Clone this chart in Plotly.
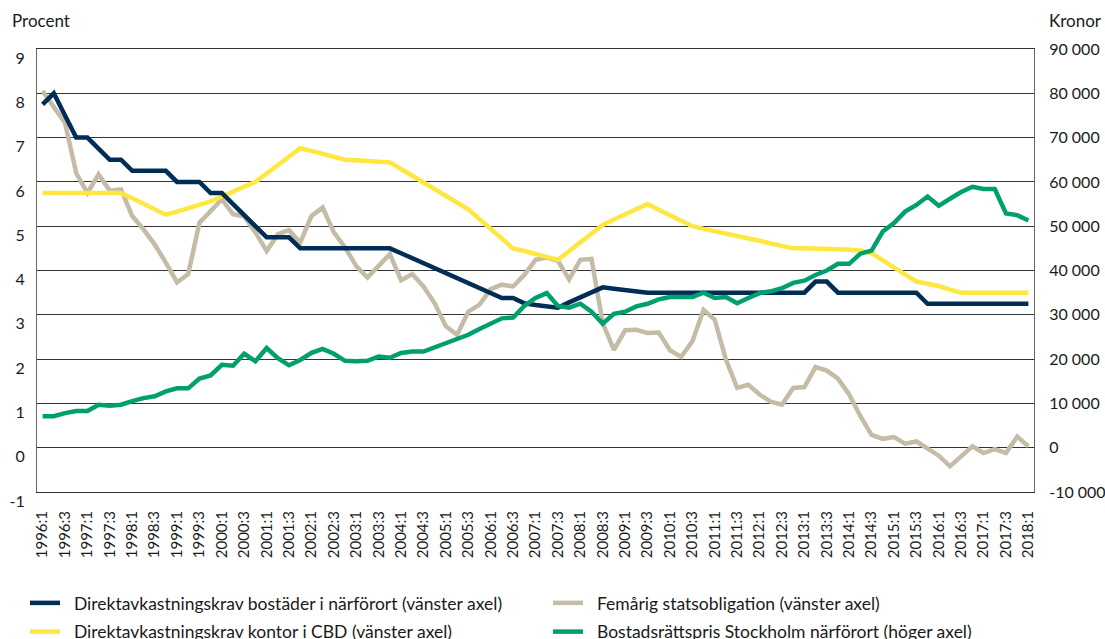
import plotly.graph_objects as go

# quarters 1996:1 .. 2018:1
quarters = [f"{year}:{q}" for year in range(1996, 2019) for q in (1, 2, 3, 4)][:89]
tick_quarters = quarters[::2]

# Direktavkastningskrav bostäder i närförort (procent, vänster axel)
bostader = [
    7.75, 8.0, 7.5, 7.0, 7.0, 6.75, 6.5, 6.5, 6.25, 6.25,
    6.25, 6.25, 6.0, 6.0, 6.0, 5.75, 5.75, 5.5, 5.25, 5.0,
    4.75, 4.75, 4.75, 4.5, 4.5, 4.5, 4.5, 4.5, 4.5, 4.5,
    4.5, 4.5, 4.39, 4.28, 4.16, 4.05, 3.94, 3.83, 3.72, 3.6,
    3.49, 3.38, 3.38, 3.26, 3.22, 3.19, 3.16, 3.28, 3.4, 3.51,
    3.62, 3.59, 3.56, 3.53, 3.5, 3.5, 3.5, 3.5, 3.5, 3.5,
    3.5, 3.5, 3.5, 3.5, 3.5, 3.5, 3.5, 3.5, 3.5, 3.75,
    3.75, 3.5, 3.5, 3.5, 3.5, 3.5, 3.5, 3.5, 3.5, 3.25,
    3.25, 3.25, 3.25, 3.25, 3.25, 3.25, 3.25, 3.25, 3.25,
]

# Femårig statsobligation (procent, vänster axel)
statsobligation = [
    8.05, 7.7, 7.33, 6.2, 5.75, 6.17, 5.8, 5.83, 5.23, 4.93,
    4.59, 4.18, 3.73, 3.92, 5.08, 5.34, 5.61, 5.27, 5.22, 4.86,
    4.44, 4.82, 4.91, 4.63, 5.23, 5.42, 4.86, 4.52, 4.1, 3.84,
    4.1, 4.37, 3.78, 3.92, 3.64, 3.26, 2.74, 2.55, 3.07, 3.23,
    3.58, 3.68, 3.64, 3.9, 4.24, 4.29, 4.22, 3.8, 4.24, 4.26,
    2.81, 2.21, 2.65, 2.66, 2.59, 2.6, 2.2, 2.05, 2.4, 3.11,
    2.89, 1.99, 1.35, 1.42, 1.2, 1.04, 0.97, 1.35, 1.37, 1.82,
    1.74, 1.56, 1.2, 0.71, 0.29, 0.2, 0.24, 0.09, 0.14, -0.03,
    -0.18, -0.42, -0.18, 0.03, -0.12, -0.03, -0.12, 0.25, 0.03,
]

# Direktavkastningskrav kontor i CBD (procent, vänster axel)
kontor_cbd = [
    5.75, 5.75, 5.75, 5.75, 5.75, 5.75, 5.75, 5.75, 5.63, 5.5,
    5.38, 5.26, 5.33, 5.41, 5.48, 5.56, 5.67, 5.78, 5.89, 6.0,
    6.19, 6.38, 6.57, 6.76, 6.7, 6.63, 6.57, 6.5, 6.49, 6.47,
    6.46, 6.44, 6.29, 6.14, 5.99, 5.84, 5.68, 5.53, 5.38, 5.16,
    4.94, 4.72, 4.5, 4.44, 4.37, 4.31, 4.24, 4.44, 4.64, 4.83,
    5.03, 5.15, 5.27, 5.38, 5.5, 5.37, 5.25, 5.12, 5.0, 4.94,
    4.89, 4.83, 4.78, 4.72, 4.67, 4.61, 4.56, 4.5, 4.5, 4.5,
    4.49, 4.48, 4.47, 4.45, 4.39, 4.23, 4.07, 3.91, 3.75, 3.7,
    3.65, 3.57, 3.5, 3.5, 3.5, 3.5, 3.5, 3.5, 3.5,
]

# Bostadsrättspris Stockholm närförort (kronor, höger axel)
bostadsratt_pris = [
    7100, 7100, 7800, 8300, 8300, 9700, 9500, 9700, 10500, 11200,
    11600, 12700, 13400, 13400, 15600, 16300, 18700, 18500, 21200, 19500,
    22500, 20200, 18600, 19800, 21400, 22300, 21200, 19600, 19500, 19600,
    20600, 20300, 21400, 21700, 21700, 22700, 23600, 24500, 25500, 26800,
    28000, 29200, 29400, 32000, 33800, 34900, 32000, 31600, 32500, 30700,
    28000, 30200, 30700, 31900, 32500, 33500, 34000, 34000, 34000, 35000,
    33800, 34000, 32600, 33800, 34900, 35300, 36000, 37200, 37700, 39000,
    40000, 41500, 41500, 43800, 44500, 48800, 50700, 53300, 54800, 56700,
    54600, 56200, 57700, 58900, 58400, 58400, 52900, 52500, 51300,
]

left_ticks = [-1, 0, 1, 2, 3, 4, 5, 6, 7, 8, 9]
left_ticktext = ["-1", "0", "1", "2", "3", "4", "5", "6", "7", "8", "9"]
right_ticks = [-10000, 0, 10000, 20000, 30000, 40000, 50000, 60000, 70000, 80000, 90000]
right_ticktext = ["-10 000", "0", "10 000", "20 000", "30 000", "40 000",
                  "50 000", "60 000", "70 000", "80 000", "90 000"]

NAVY = "#002d56"
BEIGE = "#c4bca7"
YELLOW = "#ffe640"
GREEN = "#00a06e"
FONT = "Lato, 'Open Sans', sans-serif"
GAP = "\u00a0\u00a0"

fig = go.Figure()
fig.add_trace(go.Scatter(
    x=quarters, y=statsobligation, mode="lines", name=GAP + "Femårig statsobligation (vänster axel)",
    line=dict(color=BEIGE, width=4.5), legend="legend2", legendgroup="b", legendrank=1,
))
fig.add_trace(go.Scatter(
    x=quarters, y=kontor_cbd, mode="lines", name=GAP + "Direktavkastningskrav kontor i CBD (vänster axel)",
    line=dict(color=YELLOW, width=4.5), legend="legend", legendgroup="c", legendrank=2,
))
fig.add_trace(go.Scatter(
    x=quarters, y=bostader, mode="lines", name=GAP + "Direktavkastningskrav bostäder i närförort (vänster axel)",
    line=dict(color=NAVY, width=4.5), legend="legend", legendgroup="a", legendrank=1,
))
fig.add_trace(go.Scatter(
    x=quarters, y=bostadsratt_pris, mode="lines", name=GAP + "Bostadsrättspris Stockholm närförort (höger axel)",
    line=dict(color=GREEN, width=4.5), yaxis="y2", legend="legend2", legendgroup="d", legendrank=2,
))

legend_common = dict(
    xref="container", yref="container", xanchor="left", yanchor="top",
    orientation="v", tracegroupgap=3, bgcolor="rgba(0,0,0,0)",
    font=dict(family=FONT, size=17.5, color="#1a1a1a"),
)

fig.update_layout(
    width=1105, height=639,
    margin=dict(l=37, r=71, t=49, b=147, autoexpand=False),
    plot_bgcolor="white", paper_bgcolor="white",
    font=dict(family=FONT, size=16, color="#1a1a1a"),
    legend=dict(x=25 / 1105, y=1 - 585 / 639, **legend_common),
    legend2=dict(x=548 / 1105, y=1 - 585 / 639, **legend_common),
    xaxis=dict(
        type="category", categoryorder="array", categoryarray=quarters,
        range=[-0.5, 88.5], tickmode="array", tickvals=tick_quarters, ticktext=tick_quarters,
        tickangle=-90, tickfont=dict(size=15), ticks="", showgrid=False,
        showline=True, mirror=True, linecolor="#333333", linewidth=1,
        ticklabelstandoff=12,
    ),
    yaxis=dict(
        range=[-1, 9], tickmode="array", tickvals=left_ticks, ticktext=left_ticktext,
        showgrid=True, gridcolor="#333333", gridwidth=1, zeroline=False,
        showline=True, linecolor="#666666", linewidth=1, ticks="",
        ticklabelshift=9, ticklabelstandoff=8,
    ),
    yaxis2=dict(
        range=[-10000, 90000], overlaying="y", side="right",
        tickmode="array", tickvals=right_ticks, ticktext=right_ticktext,
        showgrid=False, zeroline=False, showline=True, linecolor="#666666", linewidth=1,
        ticks="", ticklabelstandoff=11,
    ),
    annotations=[
        dict(text="Procent", xref="paper", yref="paper", x=0, y=1, xanchor="left",
             yanchor="middle", xshift=-27, yshift=29, showarrow=False, font=dict(size=17)),
        dict(text="Kronor", xref="paper", yref="paper", x=1, y=1, xanchor="left",
             yanchor="middle", xshift=13, yshift=29, showarrow=False, font=dict(size=17)),
    ],
)

fig.write_html("out.html", config={"displayModeBar": False},
               post_script="document.body.style.margin='0';")
